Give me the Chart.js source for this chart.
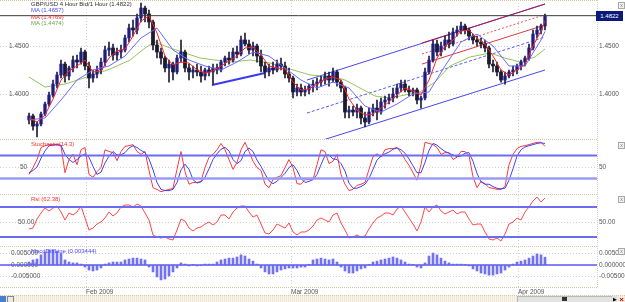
<!DOCTYPE html>
<html>
<head>
<meta charset="utf-8">
<title>GBP/USD 4 Hour</title>
<script src="https://cdn.jsdelivr.net/npm/chart.js@4.4.1/dist/chart.umd.min.js"></script>
<style>
  body { margin: 0; width: 625px; height: 302px; overflow: hidden; position: relative; background: #fff; font-family: 'Liberation Sans', Arial, sans-serif; }
  canvas { position: absolute; left: 0; }
  .sep { position: absolute; left: 0; width: 597px; height: 0; border-top: 1px dotted #d6c6a6; }
  .vline { position: absolute; left: 597px; top: 0; height: 287px; width: 0; border-left: 1px dotted #d0d0d0; }
  .txt { position: absolute; font-size: 6px; line-height: 7px; white-space: nowrap; }
  .box { position: absolute; left: 618px; width: 5px; height: 5px; border: 1px solid #a8a8a8; background: #f2f2f2; color: #777; font-size: 5px; line-height: 5px; text-align: center; }
  #lastPrice { position: absolute; left: 596px; top: 11px; width: 27px; height: 10px; background: #0a1a7a; color: #fff; font-size: 6px; line-height: 10px; text-align: center; }
  #footer { position: absolute; left: 0; top: 295px; width: 625px; height: 7px; background: repeating-linear-gradient(90deg, #efe8d8 0 1px, #f8f4ea 1px 2px); border-top: 1px dotted #d6c6a6; }
</style>
</head>
<body>
<canvas id="main" width="625" height="139" style="top:0"></canvas>
<canvas id="stoch" width="625" height="54" style="top:140px"></canvas>
<canvas id="rsi" width="625" height="51" style="top:195px"></canvas>
<canvas id="macd" width="625" height="48" style="top:247px"></canvas>

<div class="sep" style="top:0"></div>
<div class="sep" style="top:139px"></div>
<div class="sep" style="top:194px"></div>
<div class="sep" style="top:246px"></div>
<div class="sep" style="top:287px"></div>
<div class="vline"></div>

<div class="txt" style="left:31px;top:1px;color:#333">GBP/USD 4 Hour Bid/1 Hour (1.4822)</div>
<div class="txt" style="left:31px;top:7px;color:#4a4aff">MA (1.4657)</div>
<div class="txt" style="left:31px;top:14px;color:#ff2a2a">MA (1.4769)</div>
<div class="txt" style="left:31px;top:20px;color:#6aa83a">MA (1.4474)</div>
<div class="txt" style="left:31px;top:141px;color:#ff3030">Stochastic(14,3)</div>
<div class="txt" style="left:31px;top:196px;color:#ff3030">Rsi (62.38)</div>
<div class="txt" style="left:31px;top:248px;color:#4a4aff">MacdDiffLine (0.003444)</div>
<div id="lastPrice">1.4822</div>

<div class="box" style="top:2px">x</div>
<div class="box" style="top:142px">x</div>
<div class="box" style="top:196px">x</div>
<div class="box" style="top:248px">x</div>

<div id="footer">
  <div style="position:absolute;left:0;top:0;width:6px;height:6px;background:#4a7fd0"></div>
  <div style="position:absolute;left:7px;top:0;width:5px;height:5px;border:1px solid #888;background:#e8e8e8"></div>
  <div style="position:absolute;left:517px;top:0;width:95px;height:5px;border:1px solid #b8b8b8;background:#e2e2e2"></div>
  <div style="position:absolute;left:562px;top:1px;width:5px;height:4px;background:#333"></div>
  <div style="position:absolute;left:612px;top:0;width:5px;height:6px;background:#ddd;color:#000;font-size:5px;line-height:6px;text-align:center">&#9654;</div>
  <div style="position:absolute;left:618px;top:0;width:7px;height:7px;color:#e00000;font-size:8px;line-height:7px;font-weight:bold;text-align:center">&#215;</div>
</div>

<script>
// --- x range (bar index) and month marks ---
const X_MIN = -7.25, X_MAX = 142;
const monthAt = [14.25, 65.5, 122.25];
const monthLabels = ['Feb 2009', 'Mar 2009', 'Apr 2009'];

// --- GBP/USD 4h candles ---
const open = [
  1.3731,1.3773,1.3668,1.3689,1.3793,1.3898,1.3992,1.4107,1.4202,1.4316,
  1.4191,1.4275,1.4358,1.4337,1.4442,1.4296,1.4170,1.4212,1.4254,1.4337,
  1.4463,1.4484,1.4411,1.4442,1.4463,1.4589,1.4693,1.4672,1.4798,1.4902,
  1.4840,1.4756,1.4515,1.4442,1.4379,1.4275,1.4316,1.4233,1.4379,1.4442,
  1.4275,1.4233,1.4254,1.4233,1.4191,1.4254,1.4233,1.4275,1.4254,1.4337,
  1.4379,1.4358,1.4442,1.4421,1.4568,1.4526,1.4463,1.4505,1.4400,1.4296,
  1.4233,1.4275,1.4254,1.4316,1.4296,1.4212,1.4170,1.4024,1.4066,1.4024,
  1.4045,1.4086,1.4107,1.4128,1.4149,1.4191,1.4149,1.4233,1.4128,1.4066,
  1.3814,1.3835,1.3814,1.3856,1.3752,1.3710,1.3814,1.3856,1.3814,1.3919,
  1.3940,1.3961,1.4003,1.4066,1.4107,1.4045,1.4024,1.4045,1.3940,1.3961,
  1.4233,1.4358,1.4526,1.4442,1.4505,1.4568,1.4526,1.4651,1.4672,1.4714,
  1.4672,1.4609,1.4568,1.4547,1.4526,1.4484,1.4316,1.4296,1.4233,1.4149,
  1.4191,1.4233,1.4254,1.4296,1.4337,1.4379,1.4484,1.4630,1.4672,1.4714
];
const high = [
  1.3804,1.3793,1.3710,1.3814,1.3919,1.4024,1.4149,1.4233,1.4358,1.4337,
  1.4296,1.4400,1.4411,1.4484,1.4463,1.4337,1.4254,1.4296,1.4379,1.4505,
  1.4547,1.4526,1.4484,1.4515,1.4620,1.4735,1.4777,1.4840,1.4955,1.4923,
  1.4881,1.4777,1.4568,1.4484,1.4400,1.4358,1.4337,1.4411,1.4568,1.4463,
  1.4316,1.4296,1.4316,1.4296,1.4275,1.4296,1.4316,1.4316,1.4358,1.4400,
  1.4442,1.4484,1.4505,1.4609,1.4641,1.4568,1.4547,1.4526,1.4463,1.4337,
  1.4316,1.4337,1.4358,1.4379,1.4337,1.4275,1.4191,1.4107,1.4107,1.4086,
  1.4107,1.4149,1.4170,1.4191,1.4233,1.4233,1.4275,1.4254,1.4149,1.4086,
  1.3877,1.3877,1.3898,1.3877,1.3814,1.3856,1.3898,1.3940,1.3961,1.3982,
  1.4003,1.4066,1.4107,1.4149,1.4149,1.4086,1.4066,1.4066,1.3982,1.4275,
  1.4400,1.4568,1.4568,1.4547,1.4609,1.4651,1.4693,1.4714,1.4756,1.4735,
  1.4693,1.4630,1.4609,1.4589,1.4568,1.4505,1.4358,1.4337,1.4254,1.4233,
  1.4254,1.4296,1.4316,1.4358,1.4400,1.4526,1.4672,1.4714,1.4735,1.4840
];
const low = [
  1.3689,1.3626,1.3553,1.3668,1.3773,1.3877,1.3971,1.4066,1.4170,1.4128,
  1.4149,1.4233,1.4275,1.4316,1.4254,1.4066,1.4128,1.4170,1.4212,1.4296,
  1.4400,1.4358,1.4358,1.4379,1.4442,1.4547,1.4609,1.4630,1.4756,1.4756,
  1.4693,1.4463,1.4379,1.4316,1.4233,1.4128,1.4149,1.4212,1.4337,1.4233,
  1.4149,1.4170,1.4191,1.4128,1.4149,1.4191,1.4107,1.4212,1.4233,1.4296,
  1.4316,1.4337,1.4379,1.4400,1.4505,1.4421,1.4400,1.4337,1.4233,1.4170,
  1.4191,1.4212,1.4233,1.4254,1.4170,1.4128,1.3961,1.3982,1.3982,1.3982,
  1.4003,1.4024,1.4045,1.4086,1.4107,1.4086,1.4128,1.4086,1.4024,1.3752,
  1.3752,1.3773,1.3752,1.3689,1.3658,1.3689,1.3773,1.3731,1.3793,1.3856,
  1.3898,1.3919,1.3961,1.4024,1.4024,1.3982,1.3982,1.3898,1.3856,1.3940,
  1.4212,1.4337,1.4400,1.4400,1.4463,1.4484,1.4505,1.4609,1.4630,1.4630,
  1.4568,1.4526,1.4505,1.4484,1.4442,1.4275,1.4233,1.4191,1.4128,1.4107,
  1.4170,1.4191,1.4212,1.4254,1.4296,1.4358,1.4463,1.4589,1.4630,1.4672
];
const close = [
  1.3773,1.3668,1.3689,1.3793,1.3898,1.3992,1.4107,1.4202,1.4316,1.4191,
  1.4275,1.4358,1.4337,1.4442,1.4296,1.4170,1.4212,1.4254,1.4337,1.4463,
  1.4484,1.4411,1.4442,1.4463,1.4589,1.4693,1.4672,1.4798,1.4902,1.4840,
  1.4756,1.4515,1.4442,1.4379,1.4275,1.4316,1.4233,1.4379,1.4442,1.4275,
  1.4233,1.4254,1.4233,1.4191,1.4254,1.4233,1.4275,1.4254,1.4337,1.4379,
  1.4358,1.4442,1.4421,1.4568,1.4526,1.4463,1.4505,1.4400,1.4296,1.4233,
  1.4275,1.4254,1.4316,1.4296,1.4212,1.4170,1.4024,1.4066,1.4024,1.4045,
  1.4086,1.4107,1.4128,1.4149,1.4191,1.4149,1.4233,1.4128,1.4066,1.3814,
  1.3835,1.3814,1.3856,1.3752,1.3710,1.3814,1.3856,1.3814,1.3919,1.3940,
  1.3961,1.4003,1.4066,1.4107,1.4045,1.4024,1.4045,1.3940,1.3961,1.4233,
  1.4358,1.4526,1.4442,1.4505,1.4568,1.4526,1.4651,1.4672,1.4714,1.4672,
  1.4609,1.4568,1.4547,1.4526,1.4484,1.4316,1.4296,1.4233,1.4149,1.4191,
  1.4233,1.4254,1.4296,1.4337,1.4379,1.4484,1.4630,1.4672,1.4714,1.4822
];

// --- moving averages ---
const redMaAt = [0,2,4,6,8,10,12,14,16,18,20,22,24,26,28,30,32,34,36,38,40,42,44,46,48,50,52,54,56,58,
  60,62,64,66,68,70,72,74,76,78,80,82,84,86,88,90,92,94,96,98,100,102,104,106,108,110,112,114,116,118,
  120,122,124,126,128,129];
const redMa = [
  1.3752,1.3710,1.3783,1.3950,1.4149,1.4243,1.4296,1.4358,1.4233,1.4243,
  1.4379,1.4453,1.4473,1.4609,1.4766,1.4819,1.4641,1.4400,1.4306,1.4337,
  1.4327,1.4254,1.4222,1.4243,1.4296,1.4348,1.4400,1.4484,1.4494,1.4411,
  1.4296,1.4275,1.4264,1.4128,1.4045,1.4055,1.4107,1.4160,1.4181,1.4149,
  1.3950,1.3835,1.3783,1.3793,1.3856,1.3919,1.3992,1.4066,1.4034,1.3992,
  1.4149,1.4379,1.4505,1.4568,1.4662,1.4672,1.4589,1.4526,1.4400,1.4254,
  1.4202,1.4254,1.4316,1.4505,1.4662,1.4769
];
const blueMaAt = [0,4,8,12,16,20,24,28,32,36,40,44,48,52,56,60,64,68,72,76,80,84,88,92,96,100,104,108,112,116,120,124,128,129];
const blueMa = [
  1.3731,1.3752,1.3940,1.4149,1.4254,1.4296,1.4400,1.4589,1.4693,1.4463,
  1.4358,1.4296,1.4254,1.4337,1.4442,1.4400,1.4275,1.4149,1.4066,1.4128,
  1.4066,1.3877,1.3814,1.3898,1.4003,1.4024,1.4296,1.4547,1.4630,1.4505,
  1.4296,1.4296,1.4568,1.4657
];
const greenMaAt = [0,4,9,15.25,20.25,25.25,29,31.5,35.25,39,42.75,50.25,55.25,60.25,65.25,70.25,76.5,79,82.75,86.5,90.25,92.75,97.75,101.5,105.25,110.25,115.25,119,122.75,126.5,129];
const greenMa = [1.4181,1.4076,1.4107,1.4191,1.4264,1.4358,1.4484,1.4547,1.4484,1.4432,1.4379,1.4337,1.4358,1.4327,1.4264,1.4202,1.4181,1.4149,1.4066,1.3982,1.3961,1.3982,1.4024,1.4128,1.4296,1.4390,1.4432,1.4379,1.4337,1.4390,1.4474];
const lastPrice = 1.4822;

// --- drawn trend lines / channels: [[bar, price], [bar, price]] ---
const trendFeb = [[45.75, 1.4097], [59, 1.4222]];
const blueUpper = [[69.5, 1.4149], [129, 1.4944]];
const blueMid = [[69.5, 1.3804], [129, 1.4599]];
const blueLower = [[73.5, 1.3522], [129, 1.4254]];
const redUpper = [[98.25, 1.4536], [129, 1.4944]];
const redMid = [[98.25, 1.4421], [129, 1.4833]];
const redLower = [[98.25, 1.4316], [129, 1.4725]];

// --- indicators ---
const stochK = [
  37,49,63,84,87,89,89,89,87,40, 63,72,54,80,84,37,32,42,49,80,
  77,75,61,77,86,87,89,77,72,77, 44,14,11,7,9,11,13,46,77,42,
  20,23,23,25,49,67,72,80,91,80, 63,46,58,80,93,77,60,49,44,20,
  14,28,32,35,49,63,49,21,20,28, 28,28,54,80,77,56,60,72,37,20,
  9,11,18,20,23,46,68,73,67,80, 82,82,84,75,63,53,40,27,54,93,
  91,89,84,72,75,75,63,67,77,77, 70,33,14,25,21,14,13,11,11,16,
  54,72,82,86,87,89,91,93,93,86
];
const stochD = [
  40,44,50,65,78,87,88,89,88,72, 63,58,63,69,73,67,51,37,41,57,
  69,77,71,71,75,83,87,84,79,75, 64,45,23,11,9,9,11,23,45,55,
  46,28,22,24,32,47,63,73,81,84, 78,63,56,61,77,83,77,62,51,38,
  26,21,25,32,39,49,54,44,30,23, 25,28,37,54,70,71,64,63,56,43,
  22,13,13,16,20,30,46,62,69,73, 76,81,83,80,74,64,52,40,40,58,
  79,91,88,82,77,74,71,68,69,74, 75,60,39,24,20,20,16,13,12,13,
  27,47,69,80,85,87,89,91,92,91
];
const stochLevels = [70, 30];
const rsi = [
  36,38,56,68,78,72,78,82,70,54, 68,64,70,82,58,34,38,46,50,58,
  70,62,68,80,84,84,80,86,82,68, 54,24,20,18,20,16,14,34,56,52,
  38,32,38,40,46,50,44,50,64,64, 56,70,78,82,82,70,60,64,46,28,
  26,34,46,42,38,48,30,24,30,30, 34,42,54,58,54,50,64,68,48,34,
  18,20,24,20,22,36,48,58,62,68, 68,64,76,82,70,58,46,32,50,80,
  70,80,84,72,66,70,74,66,70,70, 56,44,46,46,30,16,14,18,12,26,
  46,50,58,54,70,80,92,100,90,98
];
const rsiLevels = [80, 20];
const macd = [
  0.0013,0.0022,0.0026,0.0044,0.0057,0.0065,0.0065,0.0061,0.0052,0.0022,
  0.0013,0.0009,0.0009,0.0004,-0.0009,-0.0022,-0.0026,-0.0022,-0.0013,0.0004,
  0.0009,0.0013,0.0013,0.0013,0.0022,0.0026,0.0030,0.0030,0.0026,0.0022,
  -0.0009,-0.0030,-0.0052,-0.0065,-0.0061,-0.0048,-0.0030,-0.0013,0.0009,0.0004,
  -0.0004,0.0001,-0.0004,-0.0001,0.0004,0.0004,0.0004,0.0013,0.0022,0.0026,
  0.0030,0.0030,0.0035,0.0044,0.0039,0.0026,0.0017,0.0004,-0.0013,-0.0030,
  -0.0039,-0.0039,-0.0030,-0.0022,-0.0017,-0.0013,-0.0013,-0.0013,-0.0009,-0.0009,
  0.0001,0.0022,0.0026,0.0030,0.0026,0.0022,0.0026,0.0013,-0.0009,-0.0026,
  -0.0035,-0.0035,-0.0026,-0.0017,-0.0013,0.0001,0.0013,0.0017,0.0022,0.0026,
  0.0030,0.0035,0.0030,0.0022,0.0013,0.0004,0.0001,-0.0009,-0.0013,0.0009,
  0.0039,0.0052,0.0044,0.0030,0.0017,0.0009,0.0004,0.0004,0.0004,0.0001,
  -0.0004,-0.0017,-0.0026,-0.0035,-0.0039,-0.0044,-0.0044,-0.0039,-0.0035,-0.0022,
  -0.0009,0.0004,0.0013,0.0017,0.0022,0.0030,0.0039,0.0048,0.0044,0.0034
];

// --- helpers ---
Chart.defaults.font.family = "'Liberation Sans', Arial, sans-serif";
Chart.defaults.font.size = 6.5;
Chart.defaults.color = '#555';

const pts = (xs, ys) => xs.map((x, i) => ({ x: x, y: ys[i] }));
const seg = s => s.map(p => ({ x: p[0], y: p[1] }));
const hline = v => [{ x: X_MIN, y: v }, { x: X_MAX, y: v }];
const line = (data, color, width, extra) => Object.assign({
  type: 'line', data: data, borderColor: color, borderWidth: width,
  pointRadius: 0, fill: false, tension: 0
}, extra || {});

// axes must not pad the plot area, every panel lines up to the pixel
const noPad = s => { s.paddingTop = 0; s.paddingBottom = 0; s.paddingLeft = 0; s.paddingRight = 0; };

function xAxis(showLabels) {
  return {
    type: 'linear', min: X_MIN, max: X_MAX, bounds: 'data', offset: false,
    afterBuildTicks: s => { s.ticks = monthAt.map(v => ({ value: v })); },
    ticks: {
      display: showLabels, autoSkip: false, maxRotation: 0, align: 'start', padding: 1,
      callback: (v, i) => monthLabels[i]
    },
    grid: { color: '#d2d2d2', drawTicks: false, offset: false },
    border: { display: false, dash: [1, 2] },
    afterFit: s => { s.height = showLabels ? 8 : 0; noPad(s); }
  };
}

function yAxes(min, max, ticks, fmt, leftPad) {
  const setTicks = s => { s.ticks = ticks.map(v => ({ value: v })); };
  return {
    y: {
      position: 'right', min: min, max: max, bounds: 'data', afterBuildTicks: setTicks,
      ticks: { padding: 2, callback: fmt },
      grid: { color: '#cfcfcf', drawTicks: false },
      border: { display: false, dash: [1, 2] },
      afterFit: s => { s.width = 28; noPad(s); }
    },
    yl: {
      position: 'left', min: min, max: max, bounds: 'data', afterBuildTicks: setTicks,
      ticks: { mirror: true, padding: leftPad, callback: fmt },
      grid: { display: false }, border: { display: false },
      afterFit: s => { s.width = 0; noPad(s); }
    }
  };
}

function makeChart(id, type, datasets, xOpts, yOpts) {
  return new Chart(document.getElementById(id), {
    type: type,
    data: { datasets: datasets },
    options: {
      responsive: false, animation: false, devicePixelRatio: 1, events: [],
      layout: { padding: 0 },
      plugins: { legend: { display: false }, tooltip: { enabled: false } },
      scales: Object.assign({ x: xOpts }, yOpts)
    }
  });
}

const bars = close.map((c, i) => i);

// --- price panel ---
makeChart('main', 'bar', [
  line(seg(blueUpper), '#4646f0', 1, { order: 9 }),
  line(seg(blueMid), '#5a5af0', 1, { order: 9, borderDash: [3, 2] }),
  line(seg(blueLower), '#4646f0', 1, { order: 9 }),
  line(seg(trendFeb), '#3a3af0', 2, { order: 9 }),
  line(seg(redUpper), '#b01850', 1, { order: 8 }),
  line(seg(redMid), '#e85050', 1, { order: 8, borderDash: [2, 2] }),
  line(seg(redLower), '#e03838', 1, { order: 8 }),
  line(pts(greenMaAt, greenMa), '#94c45a', 1, { order: 7 }),
  { type: 'bar', order: 6, grouped: false, barThickness: 3, minBarLength: 1, borderSkipped: false,
    backgroundColor: bars.map(i => close[i] >= open[i] ? '#4040ff' : '#0c0c0c'),
    data: bars.map(i => ({ x: i, y: [open[i], close[i]] })) },
  { type: 'bar', order: 5, grouped: false, barThickness: 1, backgroundColor: '#1e1e3a',
    data: bars.map(i => ({ x: i, y: [low[i], high[i]] })) },
  line(pts(blueMaAt, blueMa), '#6a6aff', 1, { order: 4 }),
  line(pts(redMaAt, redMa), '#ff2020', 1, { order: 3 }),
  line(hline(lastPrice), '#3a3a3a', 1, { order: 2 })
], xAxis(false), yAxes(1.35324, 1.4986, [1.40, 1.45], v => v.toFixed(4), 9));

// --- stochastic panel ---
makeChart('stoch', 'line', [
  line(hline(stochLevels[0]), '#6c6cf2', 2),
  line(hline(stochLevels[1]), '#9a9af6', 2.5),
  line(pts(bars, stochD), '#4040ff', 1),
  line(pts(bars, stochK), '#ff3838', 1)
], xAxis(false), yAxes(3, 97, [50], v => String(v), 20));

// --- RSI panel ---
makeChart('rsi', 'line', [
  line(hline(rsiLevels[0]), '#6c6cf2', 2),
  line(hline(rsiLevels[1]), '#6c6cf2', 2),
  line(pts(bars, rsi), '#ff4848', 1)
], xAxis(false), yAxes(2, 104, [50], v => v.toFixed(2), 18));

// --- MACD panel ---
makeChart('macd', 'bar', [
  line(hline(0), '#5a5af0', 1.5, { order: 0 }),
  { type: 'bar', order: 1, barThickness: 2, backgroundColor: '#7272f0',
    data: bars.map(i => ({ x: i, y: macd[i] })) }
], xAxis(true), yAxes(-0.00957, 0.00783, [-0.005, 0, 0.005], v => v.toFixed(6), 11));
</script>
</body>
</html>
